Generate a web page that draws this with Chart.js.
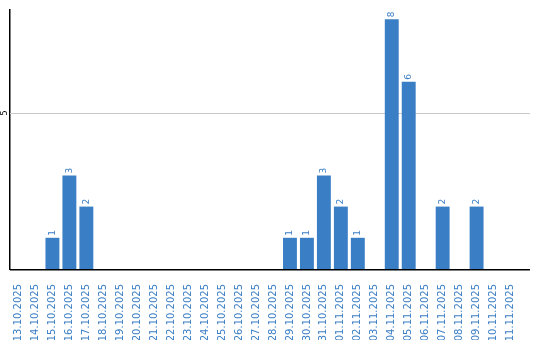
<!DOCTYPE html>
<html>
<head>
<meta charset="utf-8">
<script src="https://cdn.jsdelivr.net/npm/chart.js@4"></script>
<style>
  html, body { margin: 0; padding: 0; background: #fff; }
  #wrap { width: 540px; height: 340px; }
</style>
</head>
<body>
<div id="wrap"><canvas id="c" width="540" height="340"></canvas></div>
<script>
const days = ["13.10.2025","14.10.2025","15.10.2025","16.10.2025","17.10.2025","18.10.2025",
  "19.10.2025","20.10.2025","21.10.2025","22.10.2025","23.10.2025","24.10.2025","25.10.2025",
  "26.10.2025","27.10.2025","28.10.2025","29.10.2025","30.10.2025","31.10.2025","01.11.2025",
  "02.11.2025","03.11.2025","04.11.2025","05.11.2025","06.11.2025","07.11.2025","08.11.2025",
  "09.11.2025","10.11.2025","11.11.2025"];
const counts = [0,0,1,3,2,0,0,0,0,0,0,0,0,0,0,0,1,1,3,2,1,0,8,6,0,2,0,2,0,0];
const yTicks = [5];

const blue = "#3a7ec5";
const extraRight = 11; // plot frame runs a bit past the last category

const extras = {
  id: "extras",
  beforeDatasetsDraw(chart) {
    const ctx = chart.ctx;
    const a = chart.chartArea;
    const y = chart.scales.y;
    ctx.save();
    ctx.strokeStyle = "#c8c8c8";
    ctx.lineWidth = 1;
    yTicks.forEach(v => {
      const py = Math.round(y.getPixelForValue(v)) + 0.5;
      ctx.beginPath();
      ctx.moveTo(a.left, py);
      ctx.lineTo(a.right + extraRight, py);
      ctx.stroke();
    });
    ctx.restore();
  },
  afterDatasetsDraw(chart) {
    const ctx = chart.ctx;
    const a = chart.chartArea;
    const meta = chart.getDatasetMeta(0);
    ctx.save();
    // x axis line
    ctx.strokeStyle = "#000";
    ctx.lineWidth = 1.5;
    ctx.beginPath();
    ctx.moveTo(a.left, a.bottom + 0.75);
    ctx.lineTo(a.right + extraRight, a.bottom + 0.75);
    ctx.stroke();
    // value labels
    ctx.fillStyle = blue;
    ctx.font = "9px 'DejaVu Sans'";
    ctx.textAlign = "left";
    ctx.textBaseline = "middle";
    meta.data.forEach((bar, i) => {
      if (!counts[i]) return;
      ctx.save();
      ctx.translate(bar.x, bar.y - 2);
      ctx.rotate(-Math.PI / 2);
      ctx.fillText(String(counts[i]), 0, 0);
      ctx.restore();
    });
    // y tick labels
    const y = chart.scales.y;
    ctx.fillStyle = "#000";
    ctx.font = "8px 'DejaVu Sans'";
    ctx.textAlign = "center";
    yTicks.forEach(v => {
      ctx.save();
      ctx.translate(4.5, y.getPixelForValue(v));
      ctx.rotate(-Math.PI / 2);
      ctx.fillText(String(v), 0, 0);
      ctx.restore();
    });
    ctx.restore();
  }
};

new Chart(document.getElementById("c"), {
  type: "bar",
  data: {
    labels: days,
    datasets: [{
      data: counts,
      backgroundColor: blue,
      categoryPercentage: 1,
      barPercentage: 0.82
    }]
  },
  options: {
    responsive: false,
    animation: false,
    layout: { padding: { left: 0, right: 21, top: 10, bottom: 0 } },
    plugins: { legend: { display: false }, tooltip: { enabled: false } },
    scales: {
      x: {
        afterFit(s) { s.height = 71; },
        grid: { display: false },
        border: { display: false },
        ticks: {
          color: blue,
          font: { family: "DejaVu Sans", size: 10 },
          minRotation: 90,
          maxRotation: 90,
          autoSkip: false,
          padding: 7
        }
      },
      y: {
        min: 0,
        max: 8.3,
        afterFit(s) { s.width = 10; },
        ticks: { display: false },
        grid: { display: false, drawTicks: false },
        border: { color: "#000", width: 1.5 }
      }
    }
  },
  plugins: [extras]
});
</script>
</body>
</html>
